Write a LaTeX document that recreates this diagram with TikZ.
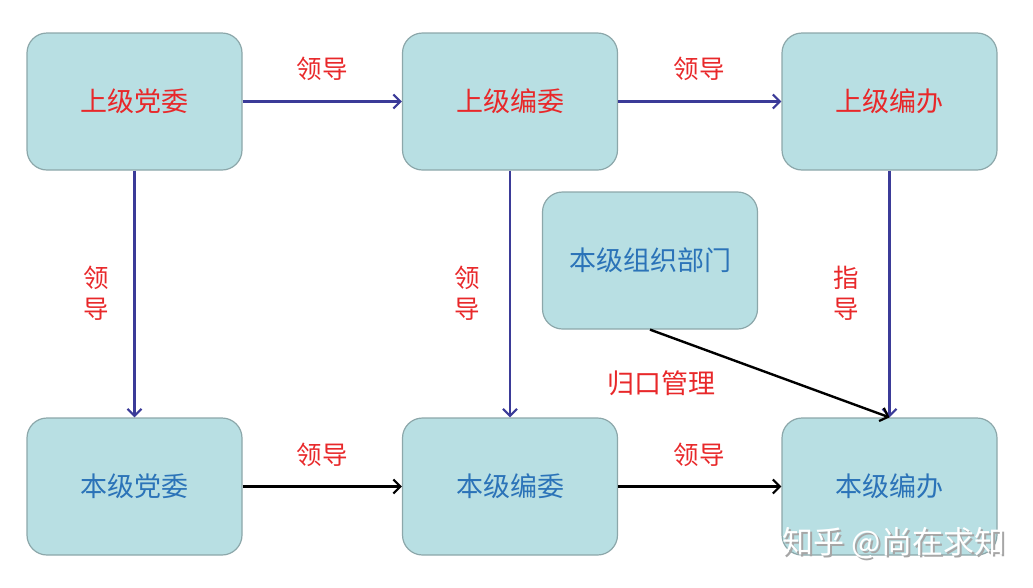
\documentclass[tikz,border=0pt]{standalone}
\usepackage{fontspec}
\setmainfont{Noto Sans CJK SC}
\usetikzlibrary{arrows.meta}
\definecolor{boxfill}{HTML}{B8DFE3}
\definecolor{boxline}{HTML}{8CA7AA}
\definecolor{redtxt}{HTML}{E8282A}
\definecolor{bluetxt}{HTML}{2B73B8}
\definecolor{navy}{HTML}{3B3B98}
\tikzset{
  box/.style={draw=boxline, line width=1.2pt, fill=boxfill, rounded corners=20pt,
    minimum width=215pt, minimum height=137pt, inner sep=0pt, font=\fontsize{27}{30}\selectfont},
  upper/.style={box, text=redtxt},
  lower/.style={box, text=bluetxt},
  lbl/.style={text=redtxt, font=\fontsize{25.5}{31}\selectfont, inner sep=0pt, align=center},
  blu/.style={draw=navy, line width=2.4pt, -{Straight Barb[length=7pt,width=14pt,line width=2.2pt]}},
  blk/.style={draw=black, line width=2.4pt, -{Straight Barb[length=7pt,width=14pt,line width=2.2pt]}},
}
\begin{document}
\begin{tikzpicture}[x=1pt,y=-1pt]
\useasboundingbox (0,0) rectangle (1033,587);
\node[upper] (a1) at (134.5,101.5) {上级党委};
\node[upper] (a2) at (510,101.5) {上级编委};
\node[upper] (a3) at (889.5,101.5) {上级编办};
\node[lower] (org) at (650,260.5) {本级组织部门};
\node[lower] (b1) at (134.5,486.5) {本级党委};
\node[lower] (b2) at (510,486.5) {本级编委};
\node[lower] (b3) at (889.5,486.5) {本级编办};
\draw[blu] (a1) -- (a2);
\draw[blu] (a2) -- (a3);
\draw[blu] (a1) -- (b1);
\draw[blu] (a2) -- (b2);
\draw[blu] (a3) -- (b3);
\draw[blk] (b1) -- (b2);
\draw[blk] (b2) -- (b3);
\draw[blk] (org.south) -- (b3.north);
\node[lbl] (l1) at (322,69) {领导};
\node[lbl] (l2) at (699,69) {领导};
\node[lbl] (l3) at (96,293) {领\\导};
\node[lbl] (l4) at (467,293) {领\\导};
\node[lbl] (l5) at (846,293) {指\\导};
\node[lbl, font=\fontsize{27}{30}\selectfont] (l6) at (661,383) {归口管理};
\node[lbl] (l7) at (322,455) {领导};
\node[lbl] (l8) at (699,455) {领导};
\node[text=gray!70, font=\fontsize{31}{33}\selectfont, inner sep=0pt] (wms) at (896,545) {知乎 @尚在求知};
\node[text=white, font=\fontsize{31}{33}\selectfont, inner sep=0pt] (wm) at (894,543) {知乎 @尚在求知};
\end{tikzpicture}
\end{document}
